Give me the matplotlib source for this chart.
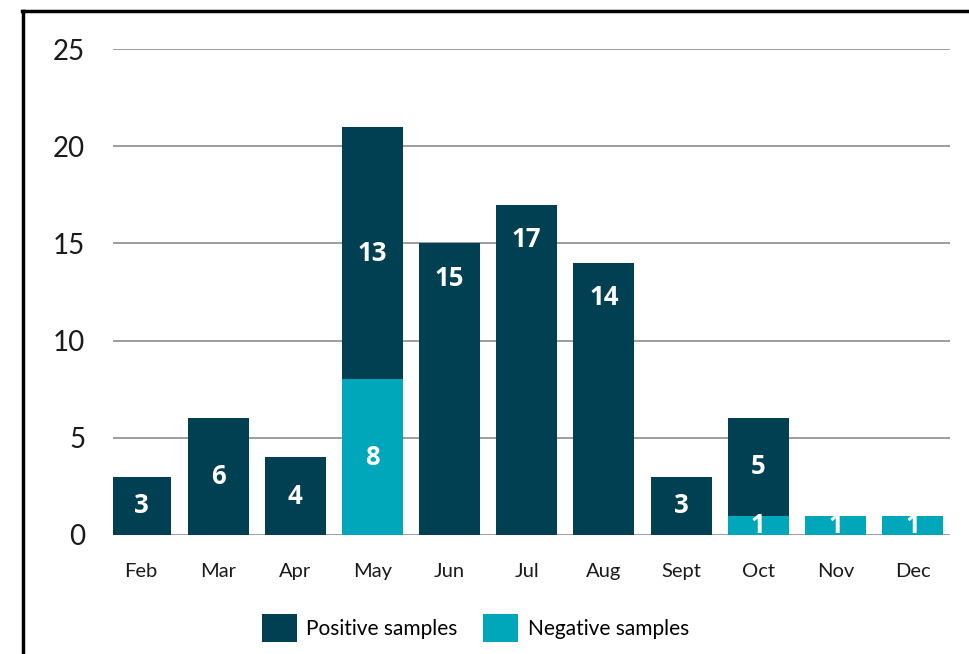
import matplotlib
matplotlib.use("Agg")
import matplotlib.pyplot as plt
from matplotlib.patches import Patch
from matplotlib.lines import Line2D
import numpy as np

plt.rcParams['font.family'] = ['Lato', 'DejaVu Sans']

months = ["Feb", "Mar", "Apr", "May", "Jun", "Jul", "Aug", "Sept", "Oct", "Nov", "Dec"]
negative = [0, 0, 0, 8, 0, 0, 0, 0, 1, 1, 1]
positive = [3, 6, 4, 13, 15, 17, 14, 3, 5, 0, 0]
y_ticks = [0, 5, 10, 15, 20, 25]
legend_labels = ["Positive samples", "Negative samples"]

dark = "#004052"
teal = "#00A6B9"

fig = plt.figure(figsize=(9.70, 6.54), dpi=100)
ax = fig.add_axes([0.1165, 0.182, 0.8625, 0.743])

x = np.arange(len(months))
w = 0.79
ax.bar(x, negative, width=w, color=teal, zorder=3)
ax.bar(x, positive, width=w, bottom=negative, color=dark, zorder=3)

lab_kw = dict(ha="center", va="center", color="white", fontsize=18.5,
              fontweight="bold", family=["Open Sans", "DejaVu Sans"], zorder=4)
for i in range(len(months)):
    n, p = negative[i], positive[i]
    if n > 0:
        ax.text(x[i], n / 2 if p > 0 or n < 3 else n - 0.9, str(n), **lab_kw)
    if p > 0:
        if n == 0 and p > 10:
            yl = p - 1.8
        else:
            yl = n + p / 2
        ax.text(x[i], yl, str(p), **lab_kw)

ax.set_ylim(0, 25)
ax.set_xlim(-0.363, 10.48)
ax.set_yticks(y_ticks)
ax.set_yticklabels([str(t) for t in y_ticks], fontsize=20, color="#1a1a1a")
ax.yaxis.grid(True, color="#8c8c8c", linewidth=1.2, zorder=0)
ax.set_axisbelow(True)
ax.set_xticks(x)
ax.set_xticklabels(months, fontsize=14.5, color="#1a1a1a")
ax.tick_params(axis="y", length=0, pad=20)
ax.tick_params(axis="x", length=0, pad=20)
for s in ax.spines.values():
    s.set_visible(False)

handles = [Patch(facecolor=dark), Patch(facecolor=teal)]
fig.legend(handles, legend_labels, loc="center", bbox_to_anchor=(0.49, 0.04),
           ncol=2, frameon=False, fontsize=15, handlelength=1.7,
           handleheight=1.7, handletextpad=0.45, columnspacing=1.2)

# outer frame: left and top rules
fig.add_artist(Line2D([0.0237, 0.0237], [0.0, 0.983], color="black",
                      linewidth=2.5, transform=fig.transFigure))
fig.add_artist(Line2D([0.0225, 1.0], [0.983, 0.983], color="black",
                      linewidth=2.5, transform=fig.transFigure))

fig.savefig("out.png", dpi=100)
